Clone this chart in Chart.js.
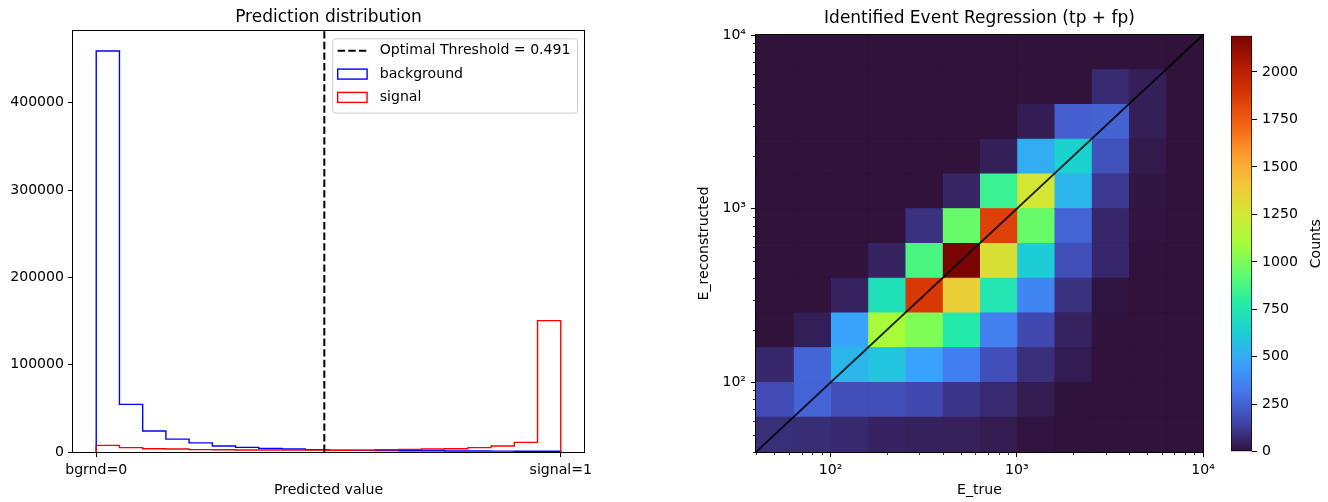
<!DOCTYPE html>
<html>
<head>
<meta charset="utf-8">
<title>Prediction distribution / Identified Event Regression</title>
<script src="https://cdn.jsdelivr.net/npm/chart.js@4.4.1/dist/chart.umd.min.js"></script>
<style>
  html, body { margin: 0; padding: 0; background: #fff; }
  #wrap { position: relative; width: 1328px; height: 502px; overflow: hidden; }
  canvas { position: absolute; top: 0; }
</style>
</head>
<body>
<div id="wrap">
  <canvas id="hist" width="600" height="502" style="left:0"></canvas>
  <canvas id="heat" width="580" height="502" style="left:640px"></canvas>
  <canvas id="cbar" width="108" height="502" style="left:1220px"></canvas>
</div>
<script>
// ---- left panel: classifier output, 20 bins ----
const predEdges = [0, 0.05, 0.1, 0.15, 0.2, 0.25, 0.3, 0.35, 0.4, 0.45, 0.5,
                   0.55, 0.6, 0.65, 0.7, 0.75, 0.8, 0.85, 0.9, 0.95, 1];
const bgCounts  = [459200, 54600, 24000, 14700, 10500, 6900, 5350, 4200, 3440, 2700,
                   2100, 1900, 1700, 1500, 1400, 1200, 1100, 1000, 900, 800];
const sigCounts = [7600, 5000, 3800, 3400, 2700, 2600, 2300, 2300, 2200, 2200,
                   1900, 2200, 2600, 3000, 3400, 3800, 5000, 6900, 11000, 150500];
const threshold = 0.491;
const predTickLabels = {0: 'bgrnd=0', 1: 'signal=1'};
const histYTicks = [0, 100000, 200000, 300000, 400000];

// ---- right panel: 2D histogram on log bins ----
const eEdges = [39.81, 63.1, 100, 158.5, 251.2, 398.1, 631, 1000, 1585, 2512, 3981, 6310, 10000];
// one row per E_reconstructed bin (lowest first), columns = E_true bins
const eCounts = [
  [85, 82, 70, 55, 48, 42, 30, 6, 0, 0, 0, 0],
  [175, 255, 185, 185, 170, 110, 75, 30, 3, 0, 0, 0],
  [68, 260, 540, 590, 470, 345, 190, 88, 32, 0, 0, 0],
  [0, 38, 470, 1110, 1010, 765, 355, 165, 50, 3, 0, 0],
  [0, 0, 50, 720, 1880, 1365, 745, 370, 95, 8, 0, 0],
  [0, 0, 0, 55, 880, 2191, 1287, 620, 190, 65, 3, 0],
  [0, 0, 0, 0, 95, 950, 1850, 950, 255, 65, 5, 0],
  [0, 0, 0, 0, 0, 60, 840, 1260, 535, 120, 10, 0],
  [0, 0, 0, 0, 0, 0, 40, 510, 640, 200, 25, 0],
  [0, 0, 0, 0, 0, 0, 0, 35, 245, 250, 40, 0],
  [0, 0, 0, 0, 0, 0, 0, 0, 0, 75, 40, 0],
  [0, 0, 0, 0, 0, 0, 0, 0, 0, 0, 0, 0]
];
const countMax = 2191;
const logMajorTicks = [100, 1000, 10000];
const logTickLabels = {100: '10\u00b2', 1000: '10\u00b3', 10000: '10\u2074'};
const logMinorTicks = [40, 50, 60, 70, 80, 90, 200, 300, 400, 500, 600, 700, 800, 900,
                       2000, 3000, 4000, 5000, 6000, 7000, 8000, 9000];
const cbarTicks = [0, 250, 500, 750, 1000, 1250, 1500, 1750, 2000];

// turbo colormap, 15 samples from 0 to 1
const turboStops = ['#30123b', '#4145ab', '#4675ed', '#39a2fc', '#1bcfd4', '#24eca6', '#61fc6c',
                    '#a4fc3b', '#d1e834', '#f3c63a', '#fe9b2d', '#f36315', '#d93806', '#b11901', '#7a0402'];

function hexRgb(h) {
  return [parseInt(h.slice(1, 3), 16), parseInt(h.slice(3, 5), 16), parseInt(h.slice(5, 7), 16)];
}
function turbo(t) {
  t = Math.min(1, Math.max(0, t));
  const f = t * (turboStops.length - 1);
  const k = Math.min(Math.floor(f), turboStops.length - 2);
  const a = hexRgb(turboStops[k]), b = hexRgb(turboStops[k + 1]);
  const u = f - k;
  const c = a.map((v, n) => Math.round(v + (b[n] - v) * u));
  return 'rgb(' + c.join(',') + ')';
}

const FS = 14.1;
Chart.defaults.font.family = '"DejaVu Sans", sans-serif';
Chart.defaults.font.size = FS;
Chart.defaults.color = '#000';
Chart.defaults.animation = false;
Chart.defaults.events = [];
Chart.defaults.plugins.legend.display = false;
Chart.defaults.plugins.tooltip.enabled = false;

// full box around the plot area, like matplotlib spines
const frame = {
  id: 'frame',
  afterDraw(chart) {
    const {ctx, chartArea: a} = chart;
    ctx.save();
    ctx.strokeStyle = '#000';
    ctx.lineWidth = 1;
    ctx.strokeRect(Math.round(a.left) - 0.5, Math.round(a.top) - 0.5,
                   Math.round(a.right - a.left) + 1, Math.round(a.bottom - a.top) + 1);
    ctx.restore();
  }
};

function tickGrid(len) {
  return { drawOnChartArea: false, drawTicks: true, tickLength: len, tickColor: '#000', tickWidth: 1 };
}
const fixedTicks = vals => s => { s.ticks = vals.map(v => ({value: v})); };

// ---------- left: prediction distribution ----------
function stepPoints(counts) {
  const pts = [{x: predEdges[0], y: 0}];
  counts.forEach((c, k) => pts.push({x: predEdges[k], y: c}));
  pts.push({x: predEdges[predEdges.length - 1], y: 0});
  return pts;
}

const histMax = Math.max(...bgCounts, ...sigCounts) * 1.05;

const histLegend = {
  id: 'histLegend',
  afterDraw(chart) {
    const {ctx, chartArea: a} = chart;
    const items = [
      {label: 'Optimal Threshold = ' + threshold, kind: 'dash', color: '#000'},
      {label: 'background', kind: 'box', color: '#0000ff'},
      {label: 'signal', kind: 'box', color: '#ff0000'}
    ];
    ctx.save();
    ctx.font = FS + 'px "DejaVu Sans"';
    const tw = Math.max(...items.map(it => ctx.measureText(it.label).width));
    const padL = 5, hl = 29.4, gap = 12.6, padR = 7;
    const right = a.right - 6.5, top = a.top + 7.8;
    const w = padL + hl + gap + tw + padR, h = 74.3;
    const left = right - w;
    const r = 3;
    ctx.beginPath();
    ctx.moveTo(left + r, top);
    ctx.lineTo(right - r, top); ctx.quadraticCurveTo(right, top, right, top + r);
    ctx.lineTo(right, top + h - r); ctx.quadraticCurveTo(right, top + h, right - r, top + h);
    ctx.lineTo(left + r, top + h); ctx.quadraticCurveTo(left, top + h, left, top + h - r);
    ctx.lineTo(left, top + r); ctx.quadraticCurveTo(left, top, left + r, top);
    ctx.closePath();
    ctx.fillStyle = 'rgba(255,255,255,0.8)';
    ctx.fill();
    ctx.strokeStyle = '#cccccc';
    ctx.lineWidth = 1;
    ctx.stroke();
    items.forEach((it, n) => {
      const cy = top + 12 + n * 23.3;
      const hx = left + padL;
      if (it.kind === 'dash') {
        ctx.beginPath();
        ctx.setLineDash([7.4, 3.2]);
        ctx.strokeStyle = it.color;
        ctx.lineWidth = 2;
        ctx.moveTo(hx, cy); ctx.lineTo(hx + hl, cy);
        ctx.stroke();
        ctx.setLineDash([]);
      } else {
        ctx.strokeStyle = it.color;
        ctx.lineWidth = 1.4;
        ctx.strokeRect(hx, cy - 5, hl, 10);
      }
      ctx.fillStyle = '#000';
      ctx.textBaseline = 'middle';
      ctx.textAlign = 'left';
      ctx.fillText(it.label, hx + hl + gap, cy);
    });
    ctx.restore();
  }
};

new Chart(document.getElementById('hist'), {
  type: 'scatter',
  data: {
    datasets: [
      {
        label: 'Optimal Threshold = ' + threshold,
        data: [{x: threshold, y: 0}, {x: threshold, y: histMax}],
        showLine: true, borderColor: '#000', borderWidth: 2, borderDash: [7.4, 3.2],
        pointRadius: 0, order: 0
      },
      {
        label: 'signal', data: stepPoints(sigCounts), showLine: true, stepped: true,
        borderColor: '#ff0000', borderWidth: 1.4, pointRadius: 0, order: 1
      },
      {
        label: 'background', data: stepPoints(bgCounts), showLine: true, stepped: true,
        borderColor: '#0000ff', borderWidth: 1.4, pointRadius: 0, order: 2
      }
    ]
  },
  options: {
    responsive: false,
    layout: { padding: { left: 0, right: 16, top: 0, bottom: 0 } },
    plugins: {
      title: {
        display: true, text: 'Prediction distribution', fullSize: false,
        font: { size: 17, weight: 'normal' }, padding: { top: 7, bottom: 3.6 }
      }
    },
    scales: {
      x: {
        type: 'linear', min: -0.05, max: 1.05,
        grid: tickGrid(5), border: { display: false },
        afterBuildTicks: fixedTicks([0, 1]),
        afterFit: s => { s.height = 50; },
        ticks: { padding: 5, maxRotation: 0, autoSkip: false, callback: v => predTickLabels[v] ?? '' },
        title: { display: true, text: 'Predicted value', padding: { top: 0, bottom: 3 } }
      },
      y: {
        type: 'linear', min: 0, max: histMax,
        grid: tickGrid(5), border: { display: false },
        afterBuildTicks: fixedTicks(histYTicks),
        afterFit: s => { s.width = 73; },
        ticks: { padding: 4, autoSkip: false, callback: v => String(v) }
      }
    }
  },
  plugins: [frame, histLegend]
});

// ---------- right: 2D histogram ----------
const heatBg = {
  id: 'heatBg',
  beforeDatasetsDraw(chart) {
    const {ctx, chartArea: a} = chart;
    ctx.save();
    ctx.fillStyle = turbo(0);
    ctx.fillRect(a.left, a.top, a.right - a.left, a.bottom - a.top);
    ctx.restore();
  }
};

const minorTicks = {
  id: 'minorTicks',
  afterDraw(chart) {
    const {ctx, chartArea: a, scales} = chart;
    ctx.save();
    ctx.strokeStyle = '#000';
    ctx.lineWidth = 0.8;
    ctx.beginPath();
    logMinorTicks.forEach(v => {
      const px = Math.round(scales.x.getPixelForValue(v)) + 0.5;
      ctx.moveTo(px, a.bottom); ctx.lineTo(px, a.bottom + 3);
      const py = Math.round(scales.y.getPixelForValue(v)) + 0.5;
      ctx.moveTo(a.left, py); ctx.lineTo(a.left - 3, py);
    });
    ctx.stroke();
    ctx.restore();
  }
};

const cellSets = [];
eCounts.forEach((row, j) => {
  row.forEach((c, i) => {
    const col = turbo(c / countMax);
    cellSets.push({
      label: 'cell ' + i + ',' + j,
      data: [
        {x: eEdges[i], y: eEdges[j]}, {x: eEdges[i + 1], y: eEdges[j]},
        {x: eEdges[i + 1], y: eEdges[j + 1]}, {x: eEdges[i], y: eEdges[j + 1]},
        {x: eEdges[i], y: eEdges[j]}
      ],
      showLine: true, fill: 'shape', backgroundColor: col, borderColor: col, borderWidth: 1,
      pointRadius: 0, order: 1
    });
  });
});

function logAxis(title, titlePad) {
  return {
    type: 'logarithmic', min: eEdges[0], max: eEdges[eEdges.length - 1],
    grid: tickGrid(5), border: { display: false },
    afterBuildTicks: fixedTicks(logMajorTicks),
    ticks: { padding: 5, maxRotation: 0, autoSkip: false, callback: v => logTickLabels[v] ?? '' },
    title: { display: true, text: title, padding: titlePad }
  };
}

const heatX = logAxis('E_true', { top: 0, bottom: 3 });
heatX.afterFit = s => { s.height = 50; };
const heatY = logAxis('E_reconstructed', { top: 55.5, bottom: 0 });
heatY.afterFit = s => { s.width = 116; };

new Chart(document.getElementById('heat'), {
  type: 'scatter',
  data: {
    datasets: [
      {
        label: 'E_true = E_reconstructed',
        data: [{x: eEdges[0], y: eEdges[0]}, {x: eEdges[eEdges.length - 1], y: eEdges[eEdges.length - 1]}],
        showLine: true, borderColor: 'rgba(0,0,0,0.85)', borderWidth: 1.9, pointRadius: 0, order: 0
      },
      ...cellSets
    ]
  },
  options: {
    responsive: false,
    layout: { padding: { left: 0, right: 17, top: 0, bottom: 0 } },
    plugins: {
      title: {
        display: true, text: 'Identified Event Regression (tp + fp)', fullSize: false,
        font: { size: 17, weight: 'normal' }, padding: { top: 8.5, bottom: 6.1 }
      }
    },
    scales: { x: heatX, y: heatY }
  },
  plugins: [heatBg, frame, minorTicks]
});

// ---------- colorbar ----------
const cbarLabel = {
  id: 'cbarLabel',
  afterDraw(chart) {
    const {ctx, chartArea: a} = chart;
    ctx.save();
    ctx.translate(96, (a.top + a.bottom) / 2);
    ctx.rotate(-Math.PI / 2);
    ctx.font = FS + 'px "DejaVu Sans"';
    ctx.fillStyle = '#000';
    ctx.textAlign = 'center';
    ctx.textBaseline = 'middle';
    ctx.fillText('Counts', 0, 0);
    ctx.restore();
  }
};

new Chart(document.getElementById('cbar'), {
  type: 'bar',
  data: {
    labels: ['Counts'],
    datasets: [{
      label: 'Counts',
      data: [[0, countMax]],
      barPercentage: 1, categoryPercentage: 1,
      borderColor: '#000', borderWidth: 1, borderSkipped: false,
      backgroundColor: ctx => {
        const a = ctx.chart.chartArea;
        if (!a) return turbo(0.5);
        const g = ctx.chart.ctx.createLinearGradient(0, a.bottom, 0, a.top);
        turboStops.forEach((c, k) => g.addColorStop(k / (turboStops.length - 1), c));
        return g;
      }
    }]
  },
  options: {
    responsive: false,
    layout: { padding: { left: 11, right: 0, top: 35.7, bottom: 50.3 } },
    scales: {
      x: { display: false },
      y: {
        position: 'right', min: 0, max: countMax,
        grid: tickGrid(5), border: { display: false },
        afterBuildTicks: fixedTicks(cbarTicks),
        afterFit: s => { s.width = 76; },
        ticks: { padding: 5, autoSkip: false, callback: v => String(v) }
      }
    }
  },
  plugins: [cbarLabel]
});
</script>
</body>
</html>
